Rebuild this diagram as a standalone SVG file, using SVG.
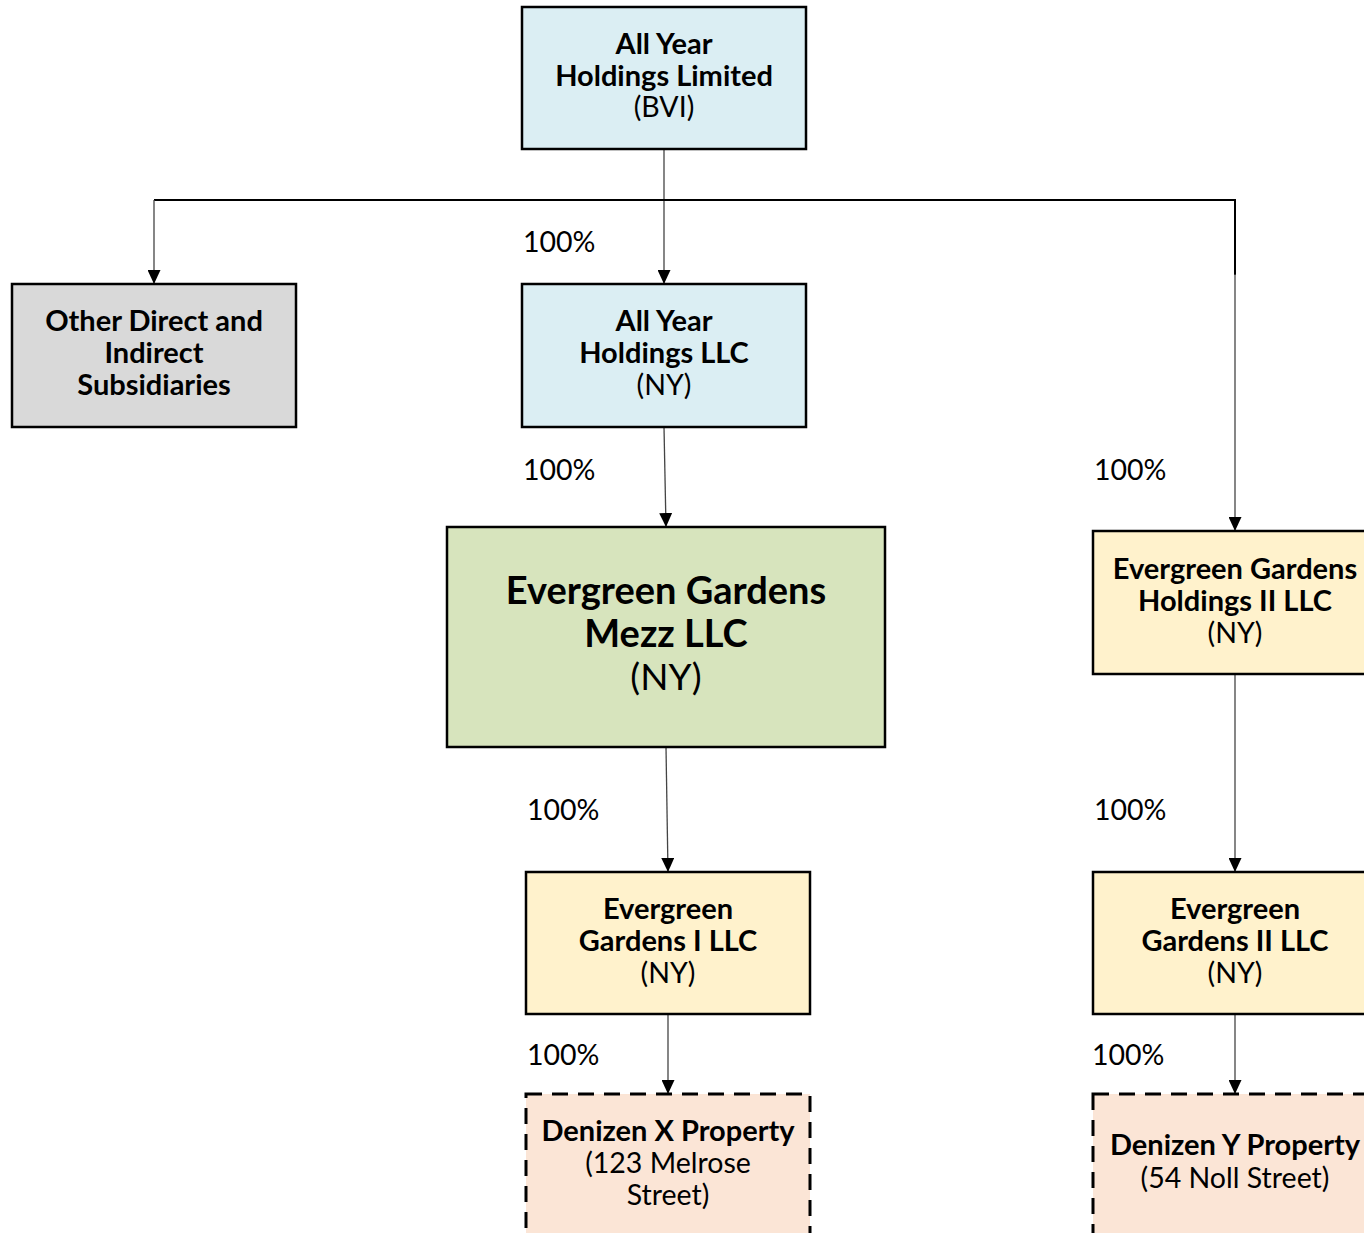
<svg xmlns="http://www.w3.org/2000/svg" width="1364" height="1233" viewBox="0 0 1364 1233">
<style>
.box{stroke:#000;stroke-width:2.5}
.dash{stroke:#000;stroke-width:3;stroke-dasharray:16 10}
.b{font-family:Lato,"Liberation Sans",sans-serif;font-weight:bold;font-size:29px;text-anchor:middle;fill:#000}
.r{font-family:Lato,"Liberation Sans",sans-serif;font-size:28.5px;text-anchor:middle;fill:#000}
.bl{font-family:Lato,"Liberation Sans",sans-serif;font-weight:bold;font-size:38px;text-anchor:middle;fill:#000}
.rl{font-family:Lato,"Liberation Sans",sans-serif;font-size:37px;text-anchor:middle;fill:#000}
.pct{font-family:Lato,"Liberation Sans",sans-serif;font-size:28.5px;fill:#000}
.ln{stroke:#444;stroke-width:1.3;fill:none}
.hb{stroke:#000;stroke-width:2;fill:none}
</style>
<defs>
<marker id="ah" markerWidth="14" markerHeight="13" refX="14" refY="6.5" orient="auto" markerUnits="userSpaceOnUse" viewBox="0 0 14 13">
<path d="M0,0 L14,6.5 L0,13 z" fill="#000"/>
</marker>
</defs>
<rect width="1364" height="1233" fill="#fff"/>
<g id="connectors">
<line class="ln" x1="664" y1="149" x2="664" y2="284" marker-end="url(#ah)"/>
<polyline class="hb" points="154,200 1235,200 1235,275"/>
<line class="ln" x1="1235" y1="274" x2="1235" y2="531" marker-end="url(#ah)"/>
<path class="ln" d="M154,200 L154,284" marker-end="url(#ah)"/>
<line class="ln" x1="664" y1="427" x2="666" y2="527" marker-end="url(#ah)"/>
<line class="ln" x1="666" y1="747" x2="668" y2="872" marker-end="url(#ah)"/>
<line class="ln" x1="668" y1="1014" x2="668" y2="1094" marker-end="url(#ah)"/>
<line class="ln" x1="1235" y1="674" x2="1235" y2="872" marker-end="url(#ah)"/>
<line class="ln" x1="1235" y1="1014" x2="1235" y2="1094" marker-end="url(#ah)"/>
<text class="pct" x="523" y="252">100%</text>
<text class="pct" x="523" y="480">100%</text>
<text class="pct" x="1094" y="480">100%</text>
<text class="pct" x="527" y="820">100%</text>
<text class="pct" x="1094" y="820">100%</text>
<text class="pct" x="527" y="1065">100%</text>
<text class="pct" x="1092" y="1065">100%</text>
</g>
<g id="n-allyear-ltd">
<rect class="box" x="522" y="7" width="284" height="142" fill="#DBEEF3"/>
<text class="b" x="664" y="54">All Year</text>
<text class="b" x="664" y="86">Holdings Limited</text>
<text class="r" x="664" y="117">(BVI)</text>
</g>
<g id="n-other">
<rect class="box" x="12" y="284" width="284" height="143" fill="#D9D9D9"/>
<text class="b" x="154" y="331">Other Direct and</text>
<text class="b" x="154" y="363">Indirect</text>
<text class="b" x="154" y="395">Subsidiaries</text>
</g>
<g id="n-allyear-llc">
<rect class="box" x="522" y="284" width="284" height="143" fill="#DBEEF3"/>
<text class="b" x="664" y="331">All Year</text>
<text class="b" x="664" y="363">Holdings LLC</text>
<text class="r" x="664" y="395">(NY)</text>
</g>
<g id="n-mezz">
<rect class="box" x="447" y="527" width="438" height="220" fill="#D7E4BD"/>
<text class="bl" x="666" y="604">Evergreen Gardens</text>
<text class="bl" x="666" y="647">Mezz LLC</text>
<text class="rl" x="666" y="690">(NY)</text>
</g>
<g id="n-egh2">
<rect class="box" x="1093" y="531" width="290" height="143" fill="#FFF2CC"/>
<text class="b" x="1235" y="579">Evergreen Gardens</text>
<text class="b" x="1235" y="611">Holdings II LLC</text>
<text class="r" x="1235" y="643">(NY)</text>
</g>
<g id="n-eg1">
<rect class="box" x="526" y="872" width="284" height="142" fill="#FFF2CC"/>
<text class="b" x="668" y="919">Evergreen</text>
<text class="b" x="668" y="951">Gardens I LLC</text>
<text class="r" x="668" y="983">(NY)</text>
</g>
<g id="n-eg2">
<rect class="box" x="1093" y="872" width="290" height="142" fill="#FFF2CC"/>
<text class="b" x="1235" y="919">Evergreen</text>
<text class="b" x="1235" y="951">Gardens II LLC</text>
<text class="r" x="1235" y="983">(NY)</text>
</g>
<g id="n-denx">
<rect class="dash" x="526" y="1094" width="284" height="160" fill="#FBE5D6"/>
<text class="b" x="668" y="1141">Denizen X Property</text>
<text class="r" x="668" y="1173">(123 Melrose</text>
<text class="r" x="668" y="1205">Street)</text>
</g>
<g id="n-deny">
<rect class="dash" x="1093" y="1094" width="290" height="160" fill="#FBE5D6"/>
<text class="b" x="1235" y="1155">Denizen Y Property</text>
<text class="r" x="1235" y="1188">(54 Noll Street)</text>
</g>
</svg>
